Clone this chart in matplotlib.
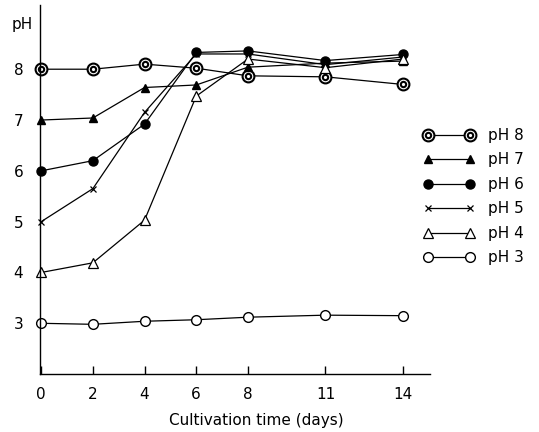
import matplotlib
matplotlib.use("Agg")
import matplotlib.pyplot as plt
import numpy as np
from matplotlib.path import Path

# cultivation time (days) and pH readings per starting pH
days = [0, 2, 4, 6, 8, 11, 14]
ph8 = [8.00, 8.00, 8.10, 8.02, 7.87, 7.85, 7.70]
ph7 = [7.00, 7.04, 7.64, 7.69, 8.04, 8.12, 8.16]
ph6 = [6.00, 6.20, 6.92, 8.33, 8.36, 8.17, 8.29]
ph5 = [5.00, 5.65, 7.15, 8.30, 8.30, 8.09, 8.24]
ph4 = [4.00, 4.19, 5.03, 7.47, 8.20, 8.03, 8.20]
ph3 = [3.00, 2.98, 3.04, 3.07, 3.12, 3.16, 3.15]
yticks = [3, 4, 5, 6, 7, 8]

# double circle marker (ring in a ring)
ring = Path.make_compound_path(Path.circle((0, 0), 1.0), Path.circle((0, 0), 0.45))

fig = plt.figure(figsize=(5.39, 4.32), dpi=100)
ax = fig.add_axes([0.074, 0.134, 0.724, 0.854])

styles = [
    (ph8, "pH 8", dict(marker=ring, markersize=8.5, mfc="white", mew=1.5)),
    (ph7, "pH 7", dict(marker="^", markersize=6, mfc="black")),
    (ph6, "pH 6", dict(marker="o", markersize=6.5, mfc="black")),
    (ph5, "pH 5", dict(marker="x", markersize=4, mew=0.9)),
    (ph4, "pH 4", dict(marker="^", markersize=6.5, mfc="white", mew=0.9)),
    (ph3, "pH 3", dict(marker="o", markersize=7, mfc="white", mew=1.0)),
]
for vals, lab, st in styles:
    ax.plot(days, vals, color="black", lw=0.9, mec="black", label=lab, clip_on=False, **st)

ax.set_xlim(-0.05, 15.05)
ax.set_ylim(2.0, 9.26)
for s in ["top", "right"]:
    ax.spines[s].set_visible(False)
for s in ["left", "bottom"]:
    ax.spines[s].set_linewidth(1.0)

ax.set_xticks(days)
ax.set_xticklabels([str(d) for d in days], fontsize=11)
ax.tick_params(axis="x", direction="in", length=6, width=1.0, pad=9)
ax.set_yticks(yticks)
ax.set_yticklabels([str(v) for v in yticks], fontsize=11)
ax.tick_params(axis="y", length=0, pad=12)

fig.text(22 / 539, 1 - 25 / 432, "pH", ha="center", va="center", fontsize=11)
fig.text(256 / 539, 1 - 421 / 432, "Cultivation time (days)", ha="center", va="center", fontsize=11)

fig.legend(loc="upper left", bbox_to_anchor=(423 / 539, 1 - 128 / 432), frameon=False,
           numpoints=2, handlelength=3.35, handletextpad=0.88, labelspacing=0.62,
           borderpad=0, borderaxespad=0, fontsize=11)

fig.savefig("out.png", dpi=100)
